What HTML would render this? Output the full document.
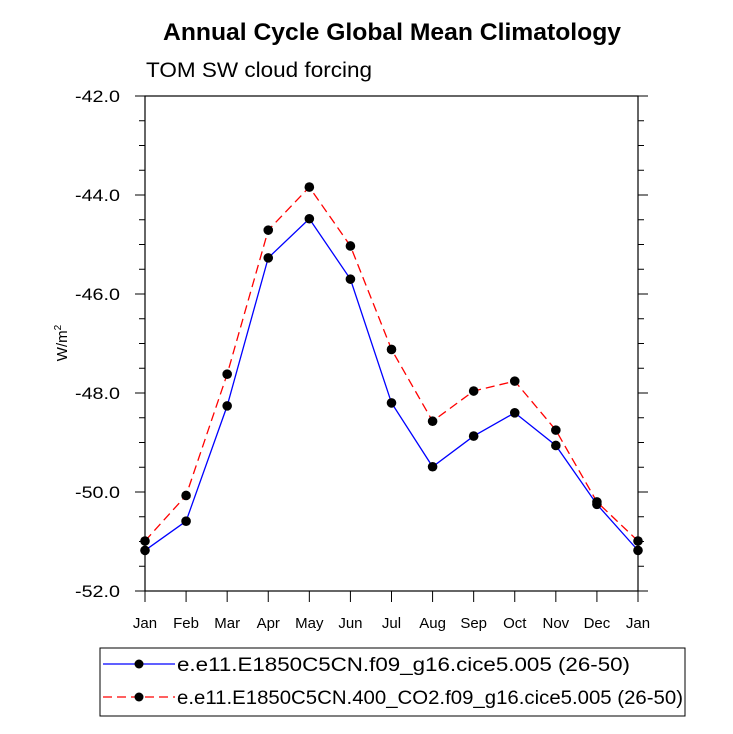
<!DOCTYPE html>
<html><head><meta charset="utf-8"><style>
body{margin:0;background:#fff}
svg{display:block;font-family:"Liberation Sans",Arial,sans-serif}
</style></head><body>
<svg id="chart" width="733" height="734" xmlns="http://www.w3.org/2000/svg">
<text x="392" y="40" text-anchor="middle" font-size="24" font-weight="bold" textLength="458" lengthAdjust="spacingAndGlyphs">Annual Cycle Global Mean Climatology</text>
<text x="146" y="77" font-size="21" textLength="226" lengthAdjust="spacingAndGlyphs">TOM SW cloud forcing</text>
<text transform="translate(67,343) rotate(-90)" text-anchor="middle" font-size="15">W/m<tspan font-size="10" dy="-6">2</tspan></text>
<g id="axes"></g>
<g id="series"></g>
<g>
<rect x="100" y="648" width="585" height="68" fill="none" stroke="#000" stroke-width="1"/>
<g>
<line x1="103" y1="664" x2="175" y2="664" stroke="#0000ff" stroke-width="1.3"/>
<circle cx="139" cy="664" r="4.5"/>
<text x="177" y="671" font-size="19" textLength="453" lengthAdjust="spacingAndGlyphs">e.e11.E1850C5CN.f09_g16.cice5.005 (26-50)</text>
</g>
<g>
<line x1="103" y1="697" x2="175" y2="697" stroke="#ff0000" stroke-width="1.3" stroke-dasharray="9,5"/>
<circle cx="139" cy="697" r="4.5"/>
<text x="177" y="704" font-size="19" textLength="506" lengthAdjust="spacingAndGlyphs">e.e11.E1850C5CN.400_CO2.f09_g16.cice5.005 (26-50)</text>
</g>
</g>
</svg>
<script>
const months = ["Jan","Feb","Mar","Apr","May","Jun","Jul","Aug","Sep","Oct","Nov","Dec","Jan"];
const controlValues = [-51.18,-50.59,-48.26,-45.27,-44.48,-45.70,-48.20,-49.49,-48.87,-48.40,-49.06,-50.25,-51.18];
const co2Values = [-50.99,-50.07,-47.62,-44.71,-43.84,-45.03,-47.12,-48.57,-47.96,-47.76,-48.75,-50.20,-50.99];
const yTicks = [-42,-44,-46,-48,-50,-52];
const yTickLabels = ["-42.0","-44.0","-46.0","-48.0","-50.0","-52.0"];

const NS="http://www.w3.org/2000/svg";
const L=145,R=638,T=96,B=591,yMin=-52,yMax=-42;
const xS=i=>L+(R-L)*i/(months.length-1);
const yS=v=>B-(v-yMin)/(yMax-yMin)*(B-T);
function mk(tag,attrs,parent){const e=document.createElementNS(NS,tag);for(const k in attrs)e.setAttribute(k,attrs[k]);parent.appendChild(e);return e;}
const ax=document.getElementById('axes');
const frame=mk('rect',{x:L,y:T,width:R-L,height:B-T,fill:'none',stroke:'#000','stroke-width':1.2},ax);


for(let v=yMin;v<=yMax+1e-9;v+=0.5){
  const y=yS(v);const major=Math.abs(Math.round(v/2)*2-v)<1e-6;const len=major?10:6;
  const t1=mk('line',{x1:L-len,y1:y,x2:L,y2:y,stroke:'#000','stroke-width':1},ax);
  
  
  const t2=mk('line',{x1:R,y1:y,x2:R+len,y2:y,stroke:'#000','stroke-width':1},ax);
  
  
}
yTicks.forEach((v,i)=>{
  const t=mk('text',{x:L-25,y:yS(v)+6,'text-anchor':'end','font-size':17,textLength:45,lengthAdjust:'spacingAndGlyphs'},ax);
  t.textContent=yTickLabels[i];
  
  
});
months.forEach((m,i)=>{
  const x=xS(i);
  const tk=mk('line',{x1:x,y1:B,x2:x,y2:B+11,stroke:'#000','stroke-width':1},ax);
  
  
  const t=mk('text',{x:x,y:B+37,'text-anchor':'middle','font-size':15},ax);
  t.textContent=m;
  
  
});
const sg=document.getElementById('series');
function series(vals,color,dash,name){
  const g=mk('g',{},sg);
  
  
  const p=mk('polyline',{points:vals.map((v,i)=>xS(i)+','+yS(v)).join(' '),fill:'none',stroke:color,'stroke-width':1.3},g);
  if(dash)p.setAttribute('stroke-dasharray',dash);
  
  
  vals.forEach((v,i)=>{
    const c=mk('circle',{cx:xS(i),cy:yS(v),r:4.8,fill:'#000'},g);
    
    
  });
}
series(controlValues,'#0000ff',null,'control-series');
series(co2Values,'#ff0000','9,5','co2-series');
</script>
</body></html>
